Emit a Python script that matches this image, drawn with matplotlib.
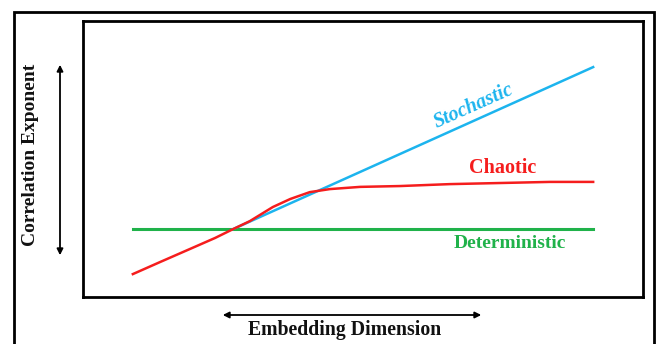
import matplotlib.pyplot as plt
from matplotlib.patches import Rectangle, FancyArrowPatch

# schematic curves (arbitrary units)
det_x = [0.89, 9.11]
det_y = [2.46, 2.46]

sto_x = [2.68, 9.11]
sto_y = [2.46, 8.33]

cha_x = [0.89, 1.38, 1.91, 2.36, 2.68, 2.98, 3.39, 3.70, 4.05, 4.41, 4.95, 5.66, 6.55, 7.45, 8.34, 9.11]
cha_y = [0.83, 1.27, 1.74, 2.14, 2.46, 2.75, 3.26, 3.55, 3.80, 3.91, 3.99, 4.02, 4.09, 4.13, 4.17, 4.17]

blue = '#1cb4ee'
red = '#f51d1d'
green = '#20b24a'
serif = ['Liberation Serif', 'DejaVu Serif']

fig = plt.figure(figsize=(6.57, 3.44), dpi=100)
ax = fig.add_axes([83 / 657, 1 - 297 / 344, 560 / 657, 276 / 344])
ax.set_xlim(0, 10)
ax.set_ylim(0, 10)
ax.set_xticks([])
ax.set_yticks([])
for s in ax.spines.values():
    s.set_linewidth(2)

ax.plot(det_x, det_y, color=green, lw=2.2)
ax.plot(sto_x, sto_y, color=blue, lw=1.8)
ax.plot(cha_x, cha_y, color=red, lw=1.8)

ax.text(6.98, 6.9, 'Stochastic', color=blue, fontsize=14.5, fontweight='bold',
        fontstyle='italic', family=serif, rotation=24, ha='center', va='center')
ax.text(7.5, 4.67, 'Chaotic', color=red, fontsize=14.5, fontweight='bold',
        family=serif, ha='center', va='center')
ax.text(7.62, 1.94, 'Deterministic', color=green, fontsize=14, fontweight='bold',
        family=serif, ha='center', va='center')

# outer frame
fig.add_artist(Rectangle((14 / 657, -0.05), 640 / 657, 1.05 - 12 / 344,
                         transform=fig.transFigure, fill=False, lw=2, color='black'))

# axis arrows
fig.add_artist(FancyArrowPatch((60 / 657, 1 - 258 / 344), (60 / 657, 1 - 62 / 344),
                               transform=fig.transFigure, arrowstyle='<|-|>',
                               mutation_scale=9, lw=1.3, color='black'))
fig.add_artist(FancyArrowPatch((220 / 657, 1 - 315 / 344), (484 / 657, 1 - 315 / 344),
                               transform=fig.transFigure, arrowstyle='<|-|>',
                               mutation_scale=9, lw=1.3, color='black'))

fig.text(31 / 657, 1 - 155 / 344, 'Correlation Exponent', rotation=90, fontsize=14,
         fontweight='bold', family=serif, ha='center', va='center', color='#111111')
fig.text(345 / 657, 1 - 330 / 344, 'Embedding Dimension', fontsize=14.2,
         fontweight='bold', family=serif, ha='center', va='center', color='#111111')

fig.savefig('out.png', dpi=100)
